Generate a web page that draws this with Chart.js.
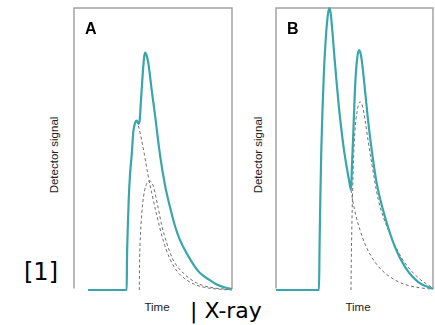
<!DOCTYPE html>
<html>
<head>
<meta charset="utf-8">
<script src="https://cdn.jsdelivr.net/npm/chart.js@4/dist/chart.umd.min.js"></script>
<style>
  html, body { margin: 0; padding: 0; background: #fff; }
  body { width: 435px; height: 325px; position: relative; overflow: hidden; }
  canvas { position: absolute; }
  .lbl { position: absolute; white-space: nowrap; color: #111; }
  .panel { font: bold 16px "Liberation Sans", Arial, sans-serif; color: #000; }
  .axis { font: 11.5px "Liberation Sans", Arial, sans-serif; color: #222; }
  .ytitle { transform-origin: center center; transform: translate(-50%, -50%) rotate(-90deg); }
  .xtitle { transform: translate(-50%, -50%); }
  .big { font-family: "DejaVu Sans", Verdana, sans-serif; color: #000; }
</style>
</head>
<body>
<canvas id="chartA" width="174" height="298" style="left:66px;top:0px"></canvas>
<canvas id="chartB" width="167" height="298" style="left:268px;top:0px"></canvas>

<div class="lbl panel" style="left:85px;top:20px">A</div>
<div class="lbl panel" style="left:287px;top:20px">B</div>
<div class="lbl axis ytitle" style="left:54px;top:155px">Detector signal</div>
<div class="lbl axis ytitle" style="left:258px;top:155px">Detector signal</div>
<div class="lbl axis xtitle" style="left:157px;top:307px">Time</div>
<div class="lbl axis xtitle" style="left:358px;top:307px">Time</div>
<div class="lbl big" style="left:24px;top:258px;font-size:24px">[1]</div>
<div class="lbl big" style="left:190px;top:298px;font-size:22px;line-height:26px">| X-ray</div>

<script>
// Panel A: total detector signal (solid) and its two overlapping pulses (dashed)
const timeA_total = [8.9, 33.35, 33.54, 33.99, 34.62, 35.44, 36.52, 37.53, 38.61, 39.68, 40.82, 41.46, 42.41, 43.67, 44.49, 45.13, 45.89, 47.03, 49.18, 51.27, 54.43, 57.59, 60.76, 63.92, 67.09, 71.52, 76.58, 79.75, 84.81, 90.32, 95.57, 100];
const signalA_total = [0, 0, 10.6, 21.3, 31.9, 40.8, 47.9, 56.0, 59.2, 60.1, 58.9, 59.6, 67.4, 78.0, 83.0, 84.2, 83.3, 80.5, 70.9, 62.1, 47.9, 37.2, 29.4, 22.7, 17.7, 12.8, 8.2, 6.0, 3.9, 1.95, 0.9, 0.35];

const timeA_pulse1 = [39.68, 41.14, 43.04, 44.94, 46.84, 49.18, 52.34, 56.52, 60.76, 65.19, 71.33, 77.22, 82.91, 92.41, 100];
const signalA_pulse1 = [60.1, 57.4, 52.5, 46.8, 40.8, 34.4, 26.6, 17.4, 11.0, 6.7, 3.55, 1.8, 0.9, 0.25, 0];

const timeA_pulse2 = [41.33, 41.46, 41.77, 42.41, 43.35, 44.62, 46.2, 48.1, 49.68, 51.27, 53.16, 55.51, 58.67, 62.85, 69.18, 77.66, 86.08, 96.65, 100];
const signalA_pulse2 = [0, 8.9, 16.0, 23.0, 30.1, 35.1, 37.9, 38.65, 37.6, 34.4, 29.4, 23.0, 16.7, 10.6, 6.0, 2.5, 0.96, 0.25, 0];

// Panel B: two well separated pulses
const timeB_total = [0, 27.39, 27.71, 28.22, 28.85, 29.62, 30.57, 31.85, 33.12, 33.95, 34.71, 35.86, 37.26, 38.66, 40.13, 41.85, 43.31, 45.03, 46.5, 47.77, 48.41, 49.24, 50.32, 51.59, 52.87, 53.82, 54.59, 56.24, 58.41, 60.96, 64.14, 69.43, 75.8, 82.17, 90.64, 100];
const signalB_total = [0, 0, 14.2, 31.9, 49.6, 63.8, 78.0, 90.4, 97.9, 100, 98.6, 92.2, 82.3, 73.4, 64.5, 56.0, 49.6, 43.6, 39.0, 35.5, 44.3, 55.7, 71.6, 81.6, 85.1, 84.0, 81.6, 73.4, 61.35, 49.6, 37.9, 25.9, 15.25, 8.2, 2.8, 0.35];

const timeB_pulse1 = [47.77, 49.04, 50.96, 53.5, 56.69, 60.51, 64.97, 70.06, 75.8, 82.17, 90.45, 100];
const signalB_pulse1 = [35.5, 31.2, 26.2, 21.3, 16.3, 12.1, 8.5, 5.7, 3.55, 1.95, 0.9, 0.25];

const timeB_pulse2 = [47.77, 47.96, 48.28, 48.73, 49.36, 50.32, 51.59, 53.5, 55.1, 56.69, 58.6, 60.96, 65.16, 71.53, 80.06, 90.64, 100];
const signalB_pulse2 = [0, 10.6, 21.3, 33.7, 46.1, 56.7, 63.1, 66.7, 65.25, 60.3, 53.2, 45.0, 32.0, 21.3, 11.35, 4.3, 0.7];

const TEAL = '#39a6aa';
const DASH = '#6e6e6e';

function points(xs, ys) {
  return xs.map((x, i) => ({ x: x, y: ys[i] }));
}

function solid(xs, ys) {
  return {
    data: points(xs, ys),
    borderColor: TEAL,
    borderWidth: 2.2,
    pointRadius: 0,
    showLine: true,
    fill: false,
    cubicInterpolationMode: 'monotone',
    order: 0
  };
}

function dashed(xs, ys) {
  return {
    data: points(xs, ys),
    borderColor: DASH,
    borderWidth: 1,
    borderDash: [3, 2.5],
    pointRadius: 0,
    showLine: true,
    fill: false,
    cubicInterpolationMode: 'monotone',
    order: 1
  };
}

// Frame on the left, top and right sides of the plot area
const framePlugin = {
  id: 'frame',
  beforeDatasetsDraw(chart) {
    const { ctx, chartArea: a } = chart;
    ctx.save();
    ctx.strokeStyle = '#a3a3a3';
    ctx.lineWidth = 1.5;
    ctx.beginPath();
    ctx.moveTo(a.left, a.bottom - 1.5);
    ctx.lineTo(a.left, a.top);
    ctx.lineTo(a.right, a.top);
    ctx.lineTo(a.right, a.bottom - 1);
    ctx.stroke();
    ctx.restore();
  }
};

function makeChart(id, datasets, padding) {
  return new Chart(document.getElementById(id), {
    type: 'scatter',
    data: { datasets: datasets },
    options: {
      responsive: false,
      devicePixelRatio: 1,
      animation: false,
      clip: false,
      layout: { padding: padding },
      plugins: { legend: { display: false }, tooltip: { enabled: false } },
      scales: {
        x: { type: 'linear', min: 0, max: 100, display: false },
        y: { type: 'linear', min: 0, max: 100, display: false }
      }
    },
    plugins: [framePlugin]
  });
}

makeChart('chartA', [
  solid(timeA_total, signalA_total),
  dashed(timeA_pulse1, signalA_pulse1),
  dashed(timeA_pulse2, signalA_pulse2)
], { left: 8, right: 8, top: 8, bottom: 8 });

makeChart('chartB', [
  solid(timeB_total, signalB_total),
  dashed(timeB_pulse1, signalB_pulse1),
  dashed(timeB_pulse2, signalB_pulse2)
], { left: 8, right: 2, top: 8, bottom: 8 });
</script>
</body>
</html>
